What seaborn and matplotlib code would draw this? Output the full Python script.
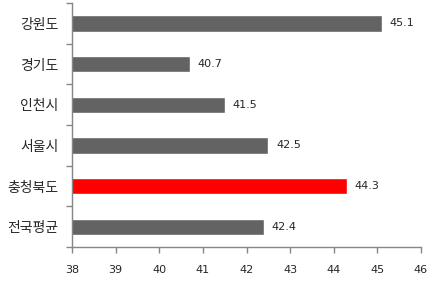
import matplotlib
matplotlib.use("Agg")
import matplotlib.pyplot as plt
import seaborn as sns
import pandas as pd
import numpy as np

categories = ["강원도", "경기도", "인천시", "서울시", "충청북도", "전국평균"]
values = [45.1, 40.7, 41.5, 42.5, 44.3, 42.4]
bar_colors = ["#636363", "#636363", "#636363", "#636363", "#FF0000", "#636363"]
x_ticks = [38, 39, 40, 41, 42, 43, 44, 45, 46]

sns.set_style("white")
plt.rcParams['font.family'] = ['Noto Sans CJK KR', 'DejaVu Sans']

df = pd.DataFrame({"cat": categories, "val": values})

fig = plt.figure(figsize=(4.34, 2.83), dpi=100)
ax = fig.add_axes([0.166, 0.127, 0.804, 0.862])

sns.barplot(data=df, x="val", y="cat", hue="cat", palette=bar_colors,
            legend=False, width=0.4, ax=ax, orient="h", saturation=1)

ax.set_xlim(38, 46)
ax.set_ylim(len(categories) - 0.5, -0.5)
ax.set_xticks(x_ticks)
ax.set_xticklabels([str(t) for t in x_ticks], fontsize=8, family=['DejaVu Sans'])
ax.set_xlabel("")
ax.set_ylabel("")

ax.set_yticks(range(len(categories)))
ax.set_yticklabels(categories, fontsize=10)
ax.set_yticks(np.arange(-0.5, len(categories), 1.0), minor=True)
ax.tick_params(axis='y', which='major', length=0, pad=10)
ax.tick_params(axis='y', which='minor', length=4, color="#868686", width=1, direction='out', left=True)
ax.tick_params(axis='x', which='major', length=4, color="#868686", width=1, direction='out', bottom=True, pad=9)

for s in ["top", "right"]:
    ax.spines[s].set_visible(False)
for s in ["left", "bottom"]:
    ax.spines[s].set_color("#868686")
    ax.spines[s].set_linewidth(1)

for i, v in enumerate(values):
    ax.text(v + 0.18, i, f"{v}", va="center", ha="left", fontsize=8, family=['DejaVu Sans'])

fig.savefig("out.png", dpi=100)
